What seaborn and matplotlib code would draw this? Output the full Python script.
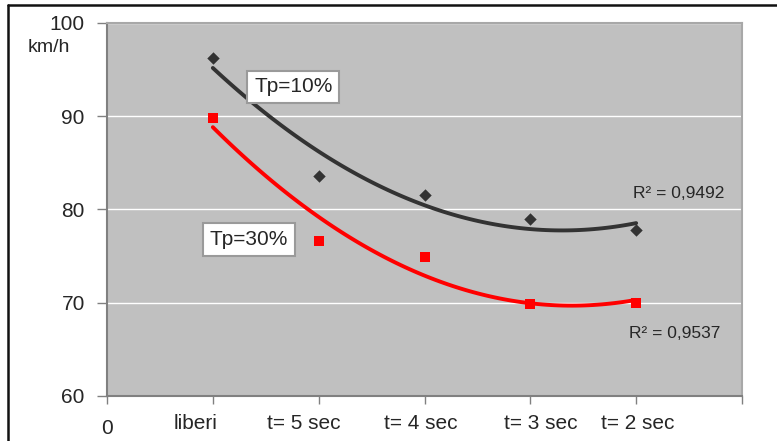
import numpy as np
import pandas as pd
import matplotlib
matplotlib.use("Agg")
import matplotlib.pyplot as plt
import matplotlib.transforms as mtransforms
from matplotlib.lines import Line2D
import seaborn as sns

# ---- data ----
categories = ["0", "liberi", "t= 5 sec", "t= 4 sec", "t= 3 sec", "t= 2 sec"]
x_pos = [1, 2, 3, 4, 5]
tp10 = [96.3, 83.6, 81.6, 79.0, 77.8]
tp30 = [89.8, 76.6, 74.9, 69.9, 70.0]
series_labels = ["Tp=10%", "Tp=30%"]
r2_labels = ["R² = 0,9492", "R² = 0,9537"]
y_ticks = [60, 70, 80, 90, 100]

df10 = pd.DataFrame({"x": x_pos, "v": tp10})
df30 = pd.DataFrame({"x": x_pos, "v": tp30})

sns.set_style("white")
plt.rcParams["font.family"] = ["Liberation Sans", "DejaVu Sans"]

W, H = 777, 441
fig = plt.figure(figsize=(W / 100, H / 100), dpi=100)
ax = fig.add_axes([107 / W, 1 - 396 / H, (742 - 107) / W, (396 - 23) / H])
ax.set_facecolor("#c0c0c0")

sns.regplot(data=df10, x="x", y="v", order=2, ci=None, ax=ax, marker="D",
            scatter_kws=dict(color="#333333", s=40, linewidths=0, alpha=1, zorder=4),
            line_kws=dict(color="#333333", lw=2.8, zorder=3))
sns.regplot(data=df30, x="x", y="v", order=2, ci=None, ax=ax, marker="s",
            scatter_kws=dict(color="#ff0000", s=55, linewidths=0, alpha=1, zorder=4),
            line_kws=dict(color="#ff0000", lw=2.8, zorder=3))

ax.set_xlim(0, 6)
ax.set_ylim(60, 100)
ax.set_yticks(y_ticks)
ax.set_yticklabels([str(t) for t in y_ticks], fontsize=15)
ax.yaxis.grid(True, color="white", lw=1.0)
ax.set_axisbelow(True)

# category ticks (marks at integers, labels slightly offset like the original)
ax.xaxis.remove_overlapping_locs = False
ax.set_xticks(range(7))
ax.set_xticklabels([])
label_pos = [0.0, 0.84, 1.86, 2.96, 4.10, 5.01]
ax.set_xticks(label_pos, minor=True)
ax.set_xticklabels(categories, minor=True, fontsize=15)
ax.tick_params(axis="x", which="minor", length=0, pad=13)
ax.tick_params(axis="x", which="major", length=6, width=1, color="#808080",
               direction="out", bottom=True)
ax.tick_params(axis="y", length=7, width=1, color="#808080", pad=9, left=True)
ax.set_xlabel("")
ax.set_ylabel("")

# the "0" label sits a little lower in the original
lbl0 = ax.get_xticklabels(minor=True)[0]
lbl0.set_transform(lbl0.get_transform() +
                   mtransforms.ScaledTranslation(0, -5 / 100, fig.dpi_scale_trans))

for side in ["left", "bottom"]:
    ax.spines[side].set_color("#808080")
    ax.spines[side].set_linewidth(1.5)
for side in ["top", "right"]:
    ax.spines[side].set_color("#a8a8a8")
    ax.spines[side].set_linewidth(1.5)

fig.text(28 / W, 1 - 48 / H, "km/h", fontsize=14, va="center", ha="left")

bbox = dict(boxstyle="square,pad=0.33", fc="white", ec="#9a9a9a", lw=1.5)
ax.text(1.76, 93.15, series_labels[0], fontsize=15, ha="center", va="center",
        bbox=bbox, zorder=5)
ax.text(1.34, 76.75, series_labels[1], fontsize=15, ha="center", va="center",
        bbox=bbox, zorder=5)
ax.text(5.40, 81.75, r2_labels[0], fontsize=12.5, ha="center", va="center")
ax.text(5.36, 66.7, r2_labels[1], fontsize=12.5, ha="center", va="center")

# outer chart frame (top and left edges visible)
fig.add_artist(Line2D([8 / W, 1.0], [1 - 5 / H, 1 - 5 / H], color="#111111",
                      lw=1.8, transform=fig.transFigure))
fig.add_artist(Line2D([8 / W, 8 / W], [0, 1 - 5 / H], color="#111111",
                      lw=1.8, transform=fig.transFigure))

fig.savefig("out.png", dpi=100, facecolor="white")
